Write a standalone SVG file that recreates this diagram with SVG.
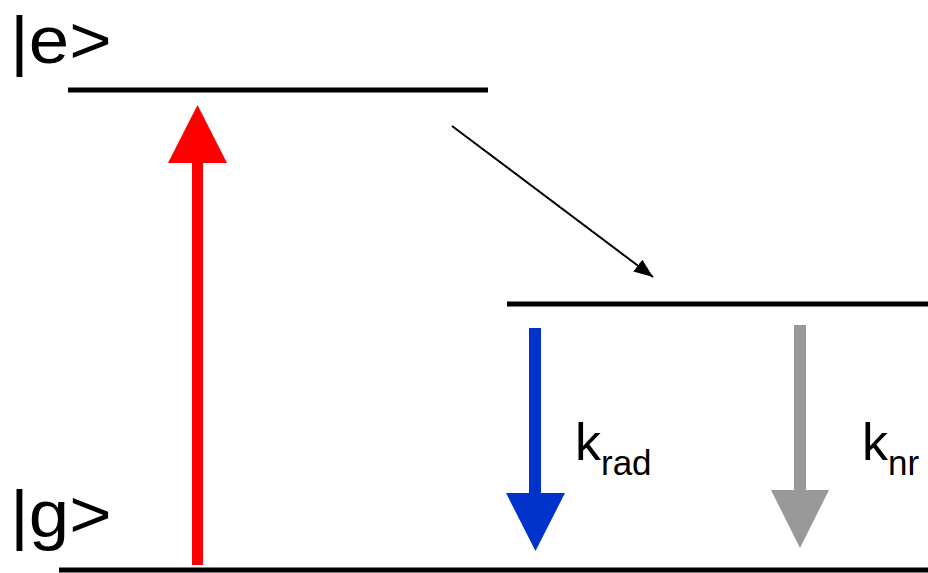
<svg xmlns="http://www.w3.org/2000/svg" width="928" height="573" viewBox="0 0 928 573">
  <style>
    .level { stroke: #000000; stroke-width: 5; fill: none; }
    .lbl { font-family: "Liberation Sans", Arial, sans-serif; fill: #000000; }
    .state { font-size: 66px; }
    .k { font-size: 52px; }
    .sub { font-size: 35px; }
  </style>
  <defs>
    <marker id="blackHead" viewBox="0 0 10 10" refX="10" refY="5" markerWidth="19" markerHeight="15" markerUnits="userSpaceOnUse" orient="auto" preserveAspectRatio="none">
      <path d="M0,0 L10,5 L0,10 Z" fill="#000000"/>
    </marker>
  </defs>
  <rect width="928" height="573" fill="#ffffff"/>

  <g id="excited-state">
    <line class="level" x1="68" y1="90" x2="488" y2="90"/>
    <text class="lbl state" transform="translate(10,63) scale(1.1,1)">|e&gt;</text>
  </g>

  <g id="relaxed-state">
    <line class="level" x1="507" y1="304" x2="928" y2="304"/>
  </g>

  <g id="ground-state">
    <line class="level" x1="59" y1="570" x2="928" y2="570"/>
    <text class="lbl state" transform="translate(10,537) scale(1.1,1)">|g&gt;</text>
  </g>

  <g id="connectors">
    <g id="excitation">
      <rect x="192" y="160" width="11" height="405" fill="#ff0000"/>
      <polygon points="197.5,105 227,163 168,163" fill="#ff0000"/>
    </g>
    <g id="relaxation">
      <line x1="452" y1="126" x2="653" y2="277" stroke="#000000" stroke-width="2" marker-end="url(#blackHead)"/>
    </g>
    <g id="radiative">
      <rect x="529" y="328" width="12" height="168" fill="#0033cc"/>
      <polygon points="535.5,551 565,493 506,493" fill="#0033cc"/>
    </g>
    <g id="nonradiative">
      <rect x="794" y="325" width="12" height="168" fill="#999999"/>
      <polygon points="800,548 829,490 771,490" fill="#999999"/>
    </g>
  </g>

  <g id="label-krad">
    <text class="lbl k" x="575" y="460">k<tspan class="sub" y="475">rad</tspan></text>
  </g>
  <g id="label-knr">
    <text class="lbl k" x="862" y="460">k<tspan class="sub" y="475">nr</tspan></text>
  </g>
</svg>
